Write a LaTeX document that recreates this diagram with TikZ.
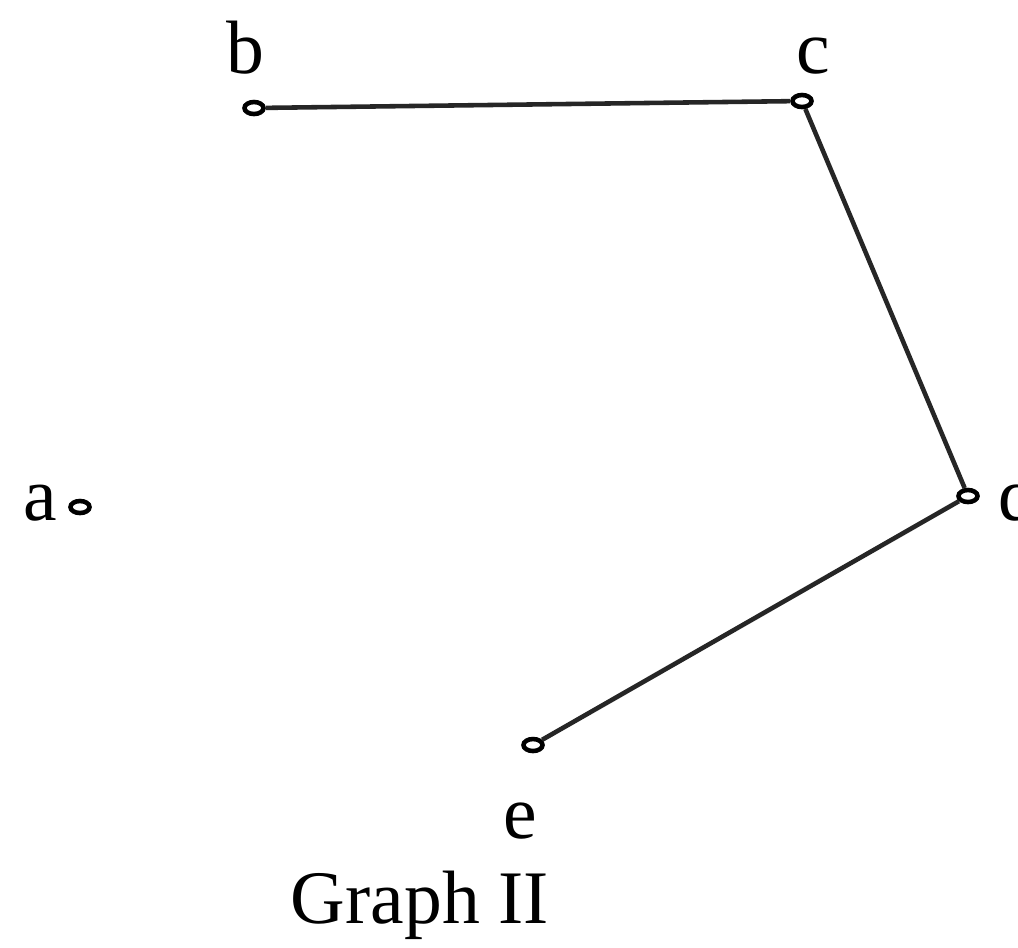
\documentclass[tikz,border=0pt]{standalone}
\usepackage{fontspec}
\setmainfont{Liberation Serif}
\usetikzlibrary{shapes.geometric}
\tikzset{
  vertex/.style={draw, ellipse, line width=1.3pt, fill=white, minimum width=0.19cm, minimum height=0.12cm, inner sep=0pt},
  lbl/.style={anchor=base, inner sep=0pt, font=\fontsize{21.5}{25}\selectfont},
  edge/.style={line width=1.3pt, draw=black!85}
}
\begin{document}
\begin{tikzpicture}[x=0.01cm, y=-0.01cm]
\useasboundingbox (0,0) rectangle (1018,947);
\fill[white] (0,0) rectangle (1018,947);
\node[vertex] (a) at (80,507) {};
\node[vertex] (b) at (254,108) {};
\node[vertex] (c) at (802,101) {};
\node[vertex] (d) at (968,496) {};
\node[vertex] (e) at (533,745) {};
\draw[edge] (b) -- (c);
\draw[edge] (c) -- (d);
\draw[edge] (d) -- (e);
\node[lbl] (la) at (40,520) {a};
\node[lbl] (lb) at (245,73) {b};
\node[lbl] (lc) at (813,73) {c};
\node[lbl, anchor=base west] (ld) at (998,520) {d};
\node[lbl] (le) at (520,838) {e};
\node[lbl] (title) at (420,923) {Graph II};
\end{tikzpicture}
\end{document}
